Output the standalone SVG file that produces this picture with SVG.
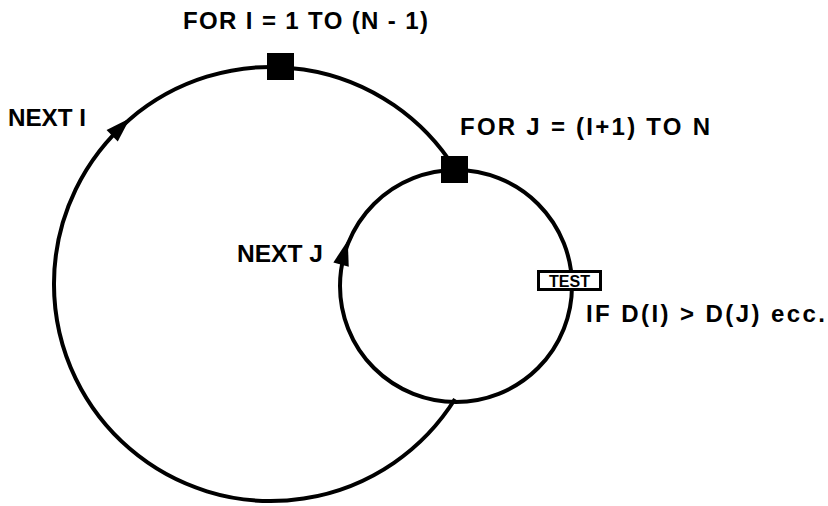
<svg xmlns="http://www.w3.org/2000/svg" width="828" height="506" viewBox="0 0 828 506">
  <style>
    .loop { fill: none; stroke: #000; stroke-width: 4; }
    .lbl { font-family: "Liberation Sans", Arial, sans-serif; font-weight: bold; font-size: 24px; fill: #000; }
    .small { font-family: "Liberation Sans", Arial, sans-serif; font-weight: bold; font-size: 16px; fill: #000; }
    .blk { fill: #000; }
  </style>
  <defs>
    <path id="ah" d="M 14 0 L -11 -8 L -11 8 Z"/>
  </defs>
  <rect width="828" height="506" fill="#fff"/>
  <g id="connectors">
    <path id="outer-loop" class="loop" d="M 455 399 A 217 217 0 1 1 455 169"/>
    <circle id="inner-loop" class="loop" cx="456" cy="286" r="116"/>
    <use href="#ah" class="blk" transform="translate(120,128) rotate(-44.5)"/>
    <use href="#ah" class="blk" transform="translate(344,254) rotate(-74.5)"/>
  </g>
  <g id="for-i">
    <rect class="blk" x="267" y="53" width="27" height="27"/>
    <text class="lbl" x="183" y="29" textLength="245" lengthAdjust="spacing">FOR I = 1 TO (N - 1)</text>
  </g>
  <g id="for-j">
    <rect class="blk" x="441" y="156" width="27" height="27"/>
    <text class="lbl" x="460" y="135" textLength="250" lengthAdjust="spacing">FOR J = (I+1) TO  N</text>
  </g>
  <g id="next-i">
    <text class="lbl" x="8" y="126" textLength="78" lengthAdjust="spacingAndGlyphs">NEXT I</text>
  </g>
  <g id="next-j">
    <text class="lbl" x="237" y="262" textLength="86" lengthAdjust="spacingAndGlyphs">NEXT J</text>
  </g>
  <g id="test">
    <rect x="538.5" y="271.5" width="62" height="18" fill="#fff" stroke="#000" stroke-width="3"/>
    <text class="small" x="569.5" y="286.5" text-anchor="middle">TEST</text>
    <text class="lbl" x="586" y="322" textLength="239" lengthAdjust="spacing">IF D(I) &gt; D(J) ecc.</text>
  </g>
</svg>
